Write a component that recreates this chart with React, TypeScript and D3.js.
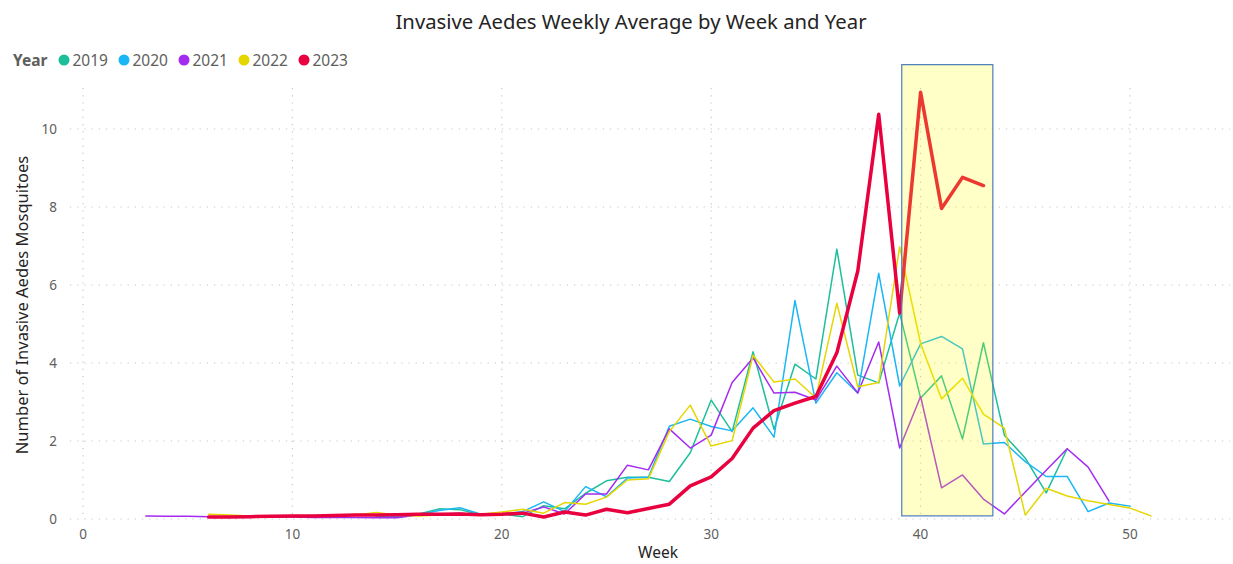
import React, { useEffect, useRef } from 'react';
import * as d3 from 'd3';

const years = ['2019', '2020', '2021', '2022', '2023'];
const colors = ['#1DBF9B', '#1AB6F5', '#A42BF0', '#E6D600', '#E8003F'];
const startWeeks = [14, 14, 3, 6, 6];

const values2019 = [0.05, 0.07, 0.12, 0.26, 0.24, 0.1, 0.13, 0.06, 0.34, 0.26, 0.66, 0.98, 1.07, 1.07, 0.96, 1.7, 3.05, 2.24, 4.29, 2.3, 3.97, 3.59, 6.92, 3.69, 3.49, 5.28, 3.1, 3.67, 2.05, 4.52, 2.15, 1.56, 0.67, 1.8];
const values2020 = [0.05, 0.07, 0.1, 0.22, 0.29, 0.12, 0.12, 0.19, 0.44, 0.19, 0.83, 0.57, 1.05, 1.07, 2.38, 2.56, 2.37, 2.26, 2.85, 2.1, 5.6, 2.97, 3.75, 3.23, 6.3, 3.41, 4.49, 4.68, 4.36, 1.92, 1.96, 1.47, 1.09, 1.09, 0.19, 0.41, 0.33];
const values2021 = [0.08, 0.07, 0.07, 0.06, 0.06, 0.05, 0.05, 0.05, 0.04, 0.04, 0.04, 0.03, 0.03, 0.1, 0.12, 0.15, 0.1, 0.12, 0.15, 0.31, 0.13, 0.64, 0.64, 1.38, 1.26, 2.31, 1.82, 2.15, 3.5, 4.13, 3.23, 3.25, 3.05, 3.92, 3.23, 4.54, 1.82, 3.14, 0.8, 1.13, 0.51, 0.13, 0.69, 1.25, 1.8, 1.33, 0.46];
const values2022 = [0.12, 0.1, 0.08, 0.07, 0.07, 0.08, 0.09, 0.1, 0.17, 0.1, 0.08, 0.1, 0.12, 0.12, 0.18, 0.25, 0.15, 0.42, 0.38, 0.56, 1.0, 1.03, 2.24, 2.92, 1.87, 2.01, 4.2, 3.51, 3.59, 3.11, 5.53, 3.39, 3.5, 6.98, 4.5, 3.08, 3.61, 2.69, 2.33, 0.1, 0.79, 0.59, 0.47, 0.37, 0.28, 0.08];
const values2023 = [0.05, 0.05, 0.06, 0.07, 0.08, 0.08, 0.09, 0.1, 0.1, 0.11, 0.12, 0.12, 0.13, 0.11, 0.12, 0.15, 0.05, 0.18, 0.1, 0.25, 0.16, 0.27, 0.38, 0.85, 1.08, 1.55, 2.33, 2.78, 2.97, 3.14, 4.26, 6.36, 10.38, 5.28, 10.94, 7.96, 8.76, 8.55];
const allValues = [values2019, values2020, values2021, values2022, values2023];

const xTicks = [0, 10, 20, 30, 40, 50];
const yTicks = [0, 2, 4, 6, 8, 10];
// highlighted band (week range, value range)
const highlightWeeks = [39.1, 43.45];
const highlightValues = [0.08, 11.65];

const W = 1233;
const H = 564;
const font = "'Segoe UI', 'Noto Sans', sans-serif";

const App: React.FC = () => {
  const svgRef = useRef<SVGSVGElement | null>(null);

  useEffect(() => {
    if (!svgRef.current) return;
    const svg = d3.select(svgRef.current);
    svg.selectAll('*').remove();

    const x = d3.scaleLinear().domain([0, 50]).range([83, 1130]);
    const y = d3.scaleLinear().domain([0, 10]).range([519, 129]);
    const plotLeft = 70, plotRight = 1230, plotTop = 88, plotBottom = 519;

    // grid
    const grid = svg.append('g')
      .attr('stroke', '#C8C6C4')
      .attr('stroke-width', 1.2)
      .attr('stroke-dasharray', '1.2,6');
    grid.selectAll('line.h').data(yTicks).join('line')
      .attr('x1', plotLeft).attr('x2', plotRight)
      .attr('y1', d => y(d)).attr('y2', d => y(d));
    grid.selectAll('line.v').data(xTicks).join('line')
      .attr('x1', d => x(d)).attr('x2', d => x(d))
      .attr('y1', plotTop).attr('y2', plotBottom);

    // tick labels
    svg.append('g')
      .attr('font-family', font).attr('font-size', 13.5).attr('fill', '#605E5C')
      .attr('text-anchor', 'end')
      .selectAll('text').data(yTicks).join('text')
      .attr('x', 57).attr('y', d => y(d)).attr('dy', '0.35em')
      .text(d => d);
    svg.append('g')
      .attr('font-family', font).attr('font-size', 13.5).attr('fill', '#605E5C')
      .attr('text-anchor', 'middle')
      .selectAll('text').data(xTicks).join('text')
      .attr('x', d => x(d)).attr('y', 539)
      .text(d => d);

    // axis titles
    svg.append('text')
      .attr('font-family', font).attr('font-size', 15.5).attr('fill', '#252423')
      .attr('text-anchor', 'middle')
      .attr('x', 658).attr('y', 558)
      .text('Week');
    svg.append('text')
      .attr('font-family', font).attr('font-size', 16.5).attr('fill', '#252423')
      .attr('text-anchor', 'middle')
      .attr('transform', 'translate(28,305) rotate(-90)')
      .text('Number of Invasive Aedes Mosquitoes');

    // lines
    allValues.forEach((vals, k) => {
      const pts = vals.map((v, i) => [startWeeks[k] + i, v] as [number, number]);
      svg.append('path')
        .datum(pts)
        .attr('fill', 'none')
        .attr('stroke', colors[k])
        .attr('stroke-width', k === 4 ? 3.5 : 1.5)
        .attr('stroke-linejoin', 'round')
        .attr('stroke-linecap', 'round')
        .attr('d', d3.line<[number, number]>().x(d => x(d[0])).y(d => y(d[1])));
    });

    // highlight band overlay
    svg.append('rect')
      .attr('x', x(highlightWeeks[0]))
      .attr('y', y(highlightValues[1]))
      .attr('width', x(highlightWeeks[1]) - x(highlightWeeks[0]))
      .attr('height', y(highlightValues[0]) - y(highlightValues[1]))
      .attr('fill', '#FFFF00')
      .attr('fill-opacity', 0.22)
      .attr('stroke', '#4A7EBB')
      .attr('stroke-width', 1.2);

    // title
    svg.append('text')
      .attr('font-family', font).attr('font-size', 20.3).attr('fill', '#252423')
      .attr('text-anchor', 'middle')
      .attr('x', 631).attr('y', 29)
      .text('Invasive Aedes Weekly Average by Week and Year');

    // legend
    const legend = svg.append('g').attr('font-family', font).attr('font-size', 15.5);
    legend.append('text')
      .attr('x', 13).attr('y', 66).attr('font-weight', 'bold').attr('fill', '#605E5C')
      .text('Year');
    const item = legend.selectAll('g.item').data(years).join('g')
      .attr('transform', (_, i) => `translate(${64 + i * 60},60)`);
    item.append('circle').attr('r', 5.5).attr('fill', (_, i) => colors[i]);
    item.append('text').attr('x', 8.5).attr('y', 5.5).attr('fill', '#605E5C').text(d => d);
  }, []);

  return (
    <svg ref={svgRef} width={W} height={H}
      style={{ position: 'absolute', left: 0, top: 0, background: '#fff' }} />
  );
};

export default App;
